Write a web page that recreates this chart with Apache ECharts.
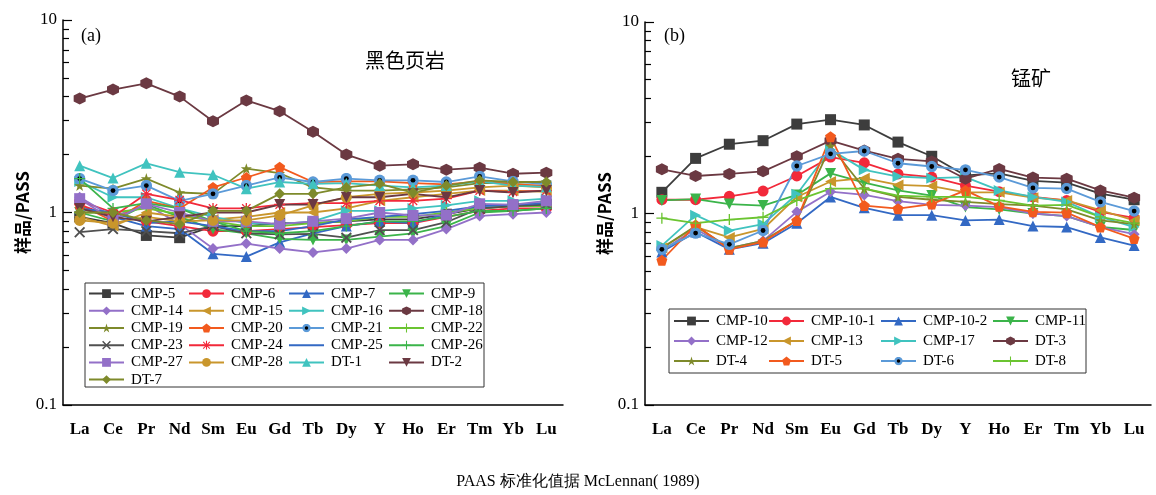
<!DOCTYPE html>
<html>
<head>
<meta charset="utf-8">
<script src="https://cdn.jsdelivr.net/npm/echarts@6/dist/echarts.min.js"></script>
<style>
  html, body { margin: 0; padding: 0; background: #fff; }
  #main { width: 1156px; height: 495px; }
</style>
</head>
<body>
<div id="main"></div>
<script>
var elements = ['La', 'Ce', 'Pr', 'Nd', 'Sm', 'Eu', 'Gd', 'Tb', 'Dy', 'Y', 'Ho', 'Er', 'Tm', 'Yb', 'Lu'];
var yLabels = [0.1, 1, 10];
var yMinor = [0.2, 0.3, 0.4, 0.5, 0.6, 0.7, 0.8, 0.9, 2, 3, 4, 5, 6, 7, 8, 9];

// (a) black shale
var cmp5  = [0.95, 0.88, 0.76, 0.74, 0.85, 0.85, 0.88, 0.88, 0.90, 0.92, 0.92, 0.98, 1.05, 1.08, 1.10];
var cmp6  = [1.15, 1.00, 0.90, 0.85, 0.80, 0.80, 0.82, 0.84, 0.86, 0.88, 0.88, 0.95, 1.02, 1.05, 1.05];
var cmp7  = [1.05, 0.95, 0.85, 0.82, 0.61, 0.59, 0.70, 0.78, 0.85, 0.90, 0.88, 0.98, 1.08, 1.10, 1.12];
var cmp9  = [1.00, 0.90, 1.10, 0.95, 0.82, 0.78, 0.73, 0.72, 0.72, 0.75, 0.78, 0.85, 1.00, 1.02, 1.05];
var cmp14 = [1.20, 0.95, 1.10, 0.87, 0.65, 0.69, 0.65, 0.62, 0.65, 0.72, 0.72, 0.82, 0.96, 0.98, 1.00];
var cmp15 = [0.95, 0.85, 1.00, 0.95, 0.92, 0.95, 1.00, 1.00, 1.05, 1.15, 1.20, 1.25, 1.30, 1.30, 1.28];
var cmp16 = [1.45, 1.20, 1.20, 1.05, 0.95, 0.88, 0.87, 0.90, 1.02, 1.02, 1.05, 1.09, 1.15, 1.15, 1.18];
var cmp18 = [3.91, 4.35, 4.69, 4.00, 2.98, 3.82, 3.36, 2.63, 2.00, 1.75, 1.78, 1.67, 1.71, 1.59, 1.61];
var cmp19 = [1.38, 1.33, 1.50, 1.27, 1.25, 1.69, 1.60, 1.35, 1.30, 1.30, 1.32, 1.35, 1.42, 1.42, 1.45];
var cmp20 = [1.10, 0.90, 1.15, 1.05, 1.35, 1.52, 1.72, 1.44, 1.45, 1.45, 1.42, 1.40, 1.45, 1.40, 1.38];
var cmp21 = [1.50, 1.30, 1.38, 1.15, 1.25, 1.38, 1.52, 1.44, 1.50, 1.47, 1.47, 1.44, 1.54, 1.45, 1.40];
var cmp22 = [1.00, 1.00, 1.05, 0.98, 0.90, 0.85, 0.85, 0.88, 0.90, 0.95, 0.95, 1.00, 1.05, 1.08, 1.08];
var cmp23 = [0.79, 0.82, 0.80, 0.78, 0.85, 0.78, 0.77, 0.775, 0.74, 0.81, 0.81, 0.89, 1.05, 1.08, 1.10];
var cmp24 = [1.10, 0.95, 1.25, 1.16, 1.05, 1.05, 1.10, 1.12, 1.12, 1.15, 1.15, 1.18, 1.30, 1.28, 1.30];
var cmp25 = [1.05, 1.00, 0.88, 0.90, 0.85, 0.80, 0.80, 0.85, 0.92, 0.95, 0.98, 1.02, 1.08, 1.10, 1.12];
var cmp26 = [1.50, 1.05, 1.12, 1.05, 0.90, 0.80, 0.78, 0.80, 0.85, 0.90, 0.90, 0.95, 1.02, 1.02, 1.05];
var cmp27 = [1.18, 0.91, 1.11, 1.00, 0.90, 0.90, 0.87, 0.90, 0.93, 1.00, 0.965, 0.97, 1.11, 1.10, 1.15];
var cmp28 = [0.91, 0.88, 0.95, 0.90, 0.91, 0.91, 0.965, 1.09, 1.20, 1.25, 1.27, 1.30, 1.35, 1.38, 1.35];
var dt1   = [1.75, 1.51, 1.80, 1.62, 1.57, 1.33, 1.44, 1.41, 1.42, 1.38, 1.35, 1.38, 1.45, 1.38, 1.36];
var dt2   = [1.05, 0.95, 0.90, 0.95, 1.00, 1.00, 1.10, 1.10, 1.20, 1.20, 1.25, 1.20, 1.30, 1.27, 1.30];
var dt7   = [1.00, 1.00, 0.91, 0.87, 1.02, 1.02, 1.25, 1.25, 1.35, 1.41, 1.27, 1.38, 1.47, 1.44, 1.44];

// (b) manganese ore
var cmp10  = [1.29, 1.94, 2.30, 2.40, 2.93, 3.09, 2.90, 2.36, 1.99, 1.58, 1.62, 1.48, 1.45, 1.27, 1.18];
var cmp101 = [1.18, 1.18, 1.23, 1.31, 1.57, 1.97, 1.84, 1.61, 1.55, 1.40, 1.30, 1.22, 1.17, 1.02, 0.95];
var cmp102 = [0.63, 0.80, 0.65, 0.70, 0.89, 1.22, 1.07, 0.98, 0.98, 0.92, 0.93, 0.86, 0.85, 0.75, 0.68];
var cmp11  = [1.17, 1.19, 1.12, 1.10, 1.25, 1.62, 1.45, 1.32, 1.24, 1.08, 1.05, 1.00, 0.97, 0.85, 0.82];
var cmp12  = [0.64, 0.83, 0.66, 0.72, 1.02, 1.30, 1.25, 1.16, 1.11, 1.10, 1.08, 1.00, 0.97, 0.85, 0.78];
var cmp13  = [0.66, 0.85, 0.75, 0.83, 1.22, 1.47, 1.53, 1.41, 1.39, 1.29, 1.29, 1.21, 1.17, 1.04, 0.92];
var cmp17  = [0.68, 0.98, 0.815, 0.88, 1.26, 2.16, 1.69, 1.56, 1.53, 1.55, 1.32, 1.22, 1.15, 0.96, 0.85];
var dt3    = [1.70, 1.57, 1.61, 1.66, 1.99, 2.40, 2.13, 1.93, 1.87, 1.52, 1.71, 1.54, 1.52, 1.32, 1.21];
var dt4    = [0.66, 0.86, 0.66, 0.72, 0.92, 2.25, 1.35, 1.22, 1.18, 1.15, 1.12, 1.10, 1.05, 0.92, 0.88];
var dt5    = [0.57, 0.87, 0.65, 0.71, 0.92, 2.52, 1.10, 1.06, 1.12, 1.32, 1.09, 1.02, 1.01, 0.85, 0.74];
var dt6    = [0.65, 0.79, 0.69, 0.815, 1.77, 2.05, 2.12, 1.83, 1.76, 1.69, 1.55, 1.36, 1.35, 1.15, 1.03];
var dt8    = [0.945, 0.89, 0.93, 0.956, 1.17, 1.35, 1.35, 1.24, 1.22, 1.22, 1.17, 1.10, 1.11, 0.96, 0.89];

var C = {
  gray: '#3d3d3d', red: '#f2293a', blue: '#3369c4', green: '#3bb44a',
  purple: '#9370c8', gold: '#c9962c', cyan: '#40c3bf', brown: '#6b3942',
  olive: '#7e8a2b', orange: '#f25a1e', lblue: '#5b9ad8', lgreen: '#6bc431', xgray: '#505050'
};

var SYM = {
  hex: 'path://M50,0 L93.3,25 L93.3,75 L50,100 L6.7,75 L6.7,25 Z',
  star: 'path://M50,0 L61.8,35.4 L99,35.4 L69,57.3 L80.4,92.7 L50,70.8 L19.6,92.7 L31,57.3 L1,35.4 L38.2,35.4 Z',
  pent: 'path://M50,0 L97.6,34.5 L79.4,90.5 L20.6,90.5 L2.4,34.5 Z',
  cross: 'path://M0,12 L12,0 L50,38 L88,0 L100,12 L62,50 L100,88 L88,100 L50,62 L12,100 L0,88 L38,50 Z',
  plus: 'path://M44,0 H56 V44 H100 V56 H56 V100 H44 V56 H0 V44 H44 Z',
  aster: 'path://M44,0 H56 V100 H44 Z M0,44 H100 V56 H0 Z M8,16 L16,8 L92,84 L84,92 Z M84,8 L92,16 L16,92 L8,84 Z',
  line: 'path://M0,0 h0.1 v0.1 h-0.1 Z M0,41 H100 V59 H0 Z M99.9,99.9 h0.1 v0.1 h-0.1 Z',
  dot: 'image://data:image/svg+xml;utf8,' + encodeURIComponent(
    "<svg xmlns='http://www.w3.org/2000/svg' width='40' height='40'>" +
    "<circle cx='20' cy='20' r='19' fill='#5b9ad8'/><circle cx='20' cy='20' r='8' fill='#000'/></svg>")
};

function mk(name, data, color, symbol, rot, idx) {
  return {
    name: name, type: 'line', data: data,
    xAxisIndex: idx, yAxisIndex: idx * 2,
    symbol: symbol, symbolRotate: rot || 0,
    symbolSize: symbol === SYM.hex || symbol === SYM.dot ? 12 : 11,
    itemStyle: { color: color },
    lineStyle: { color: color, width: 1.8 },
    animation: false
  };
}

var seriesA = [
  mk('CMP-5', cmp5, C.gray, 'rect', 0, 0),
  mk('CMP-6', cmp6, C.red, 'circle', 0, 0),
  mk('CMP-7', cmp7, C.blue, 'triangle', 0, 0),
  mk('CMP-9', cmp9, C.green, 'triangle', 180, 0),
  mk('CMP-14', cmp14, C.purple, 'diamond', 0, 0),
  mk('CMP-15', cmp15, C.gold, 'triangle', 90, 0),
  mk('CMP-16', cmp16, C.cyan, 'triangle', -90, 0),
  mk('CMP-18', cmp18, C.brown, SYM.hex, 0, 0),
  mk('CMP-19', cmp19, C.olive, SYM.star, 0, 0),
  mk('CMP-20', cmp20, C.orange, SYM.pent, 0, 0),
  mk('CMP-21', cmp21, C.lblue, SYM.dot, 0, 0),
  mk('CMP-22', cmp22, C.lgreen, SYM.plus, 0, 0),
  mk('CMP-23', cmp23, C.xgray, SYM.cross, 0, 0),
  mk('CMP-24', cmp24, C.red, SYM.aster, 0, 0),
  mk('CMP-25', cmp25, C.blue, 'none', 0, 0),
  mk('CMP-26', cmp26, C.green, SYM.plus, 0, 0),
  mk('CMP-27', cmp27, C.purple, 'rect', 0, 0),
  mk('CMP-28', cmp28, C.gold, 'circle', 0, 0),
  mk('DT-1', dt1, C.cyan, 'triangle', 0, 0),
  mk('DT-2', dt2, C.brown, 'triangle', 180, 0),
  mk('DT-7', dt7, C.olive, 'diamond', 0, 0)
];

var seriesB = [
  mk('CMP-10', cmp10, C.gray, 'rect', 0, 1),
  mk('CMP-10-1', cmp101, C.red, 'circle', 0, 1),
  mk('CMP-10-2', cmp102, C.blue, 'triangle', 0, 1),
  mk('CMP-11', cmp11, C.green, 'triangle', 180, 1),
  mk('CMP-12', cmp12, C.purple, 'diamond', 0, 1),
  mk('CMP-13', cmp13, C.gold, 'triangle', 90, 1),
  mk('CMP-17', cmp17, C.cyan, 'triangle', -90, 1),
  mk('DT-3', dt3, C.brown, SYM.hex, 0, 1),
  mk('DT-4', dt4, C.olive, SYM.star, 0, 1),
  mk('DT-5', dt5, C.orange, SYM.pent, 0, 1),
  mk('DT-6', dt6, C.lblue, SYM.dot, 0, 1),
  mk('DT-8', dt8, C.lgreen, SYM.plus, 0, 1)
];

var serif = 'Liberation Serif';
var cjk = 'Noto Sans CJK SC';

function xAx(idx) {
  return {
    type: 'category', gridIndex: idx, data: elements, boundaryGap: true,
    axisLine: { lineStyle: { color: '#000', width: 1.5 } },
    axisTick: { inside: true, alignWithLabel: true, interval: 0, length: 8, lineStyle: { color: '#000', width: 1.2 } },
    axisLabel: { interval: 0, color: '#000', fontFamily: serif, fontSize: 17, fontWeight: 'bold', margin: 16 },
    splitLine: { show: false }
  };
}
function yMajor(idx) {
  return {
    type: 'log', logBase: 10, gridIndex: idx, min: 0.1, max: 10, position: 'left',
    name: '样品/PASS', nameLocation: 'middle', nameGap: 32, nameRotate: 90,
    nameTextStyle: { color: '#000', fontFamily: cjk, fontSize: 17, fontWeight: 'bold' },
    axisLine: { show: true, lineStyle: { color: '#000', width: 1.5 } },
    axisTick: { show: true, inside: true, length: 9, customValues: yLabels, lineStyle: { color: '#000', width: 1.2 } },
    axisLabel: {
      color: '#000', fontFamily: serif, fontSize: 17, margin: 6, customValues: yLabels,
      formatter: function (v) { return String(Math.round(v * 10) / 10); }
    },
    splitLine: { show: false }, minorTick: { show: false }
  };
}
function yMinorAx(idx) {
  return {
    type: 'log', logBase: 10, gridIndex: idx, min: 0.1, max: 10, position: 'left',
    axisLine: { show: false },
    axisTick: { show: true, inside: true, length: 6, customValues: yMinor, lineStyle: { color: '#000', width: 1.2 } },
    axisLabel: { show: false },
    splitLine: { show: false }
  };
}

function legendCol(names, left, top, lh) {
  return {
    data: names.map(function (n) {
      return n === 'CMP-25' ? { name: n, icon: SYM.line } : n;
    }),
    orient: 'vertical', left: left, top: top, padding: 0,
    itemGap: 0, itemWidth: 35, itemHeight: 11, symbolKeepAspect: false,
    textStyle: { color: '#000', fontFamily: serif, fontSize: 15, lineHeight: lh, padding: [0, 0, 0, 2] }
  };
}

var myChart = echarts.init(document.getElementById('main'));
var option = {
  backgroundColor: '#fff',
  animation: false,
  title: [
    { text: '(a)', left: 76, top: 22, textStyle: { fontFamily: serif, fontSize: 18, fontWeight: 'normal', color: '#000' } },
    { text: '黑色页岩', left: 360, top: 45, textStyle: { fontFamily: cjk, fontSize: 20, fontWeight: 'normal', color: '#000' } },
    { text: '(b)', left: 659, top: 22, textStyle: { fontFamily: serif, fontSize: 18, fontWeight: 'normal', color: '#000' } },
    { text: '锰矿', left: 1006, top: 63, textStyle: { fontFamily: cjk, fontSize: 20, fontWeight: 'normal', color: '#000' } },
    { text: 'PAAS 标准化值据 McLennan( 1989)', left: 'center', top: 469, textStyle: { fontFamily: serif, fontSize: 16, fontWeight: 'normal', color: '#000' } }
  ],
  grid: [
    { left: 63, top: 20, width: 500, height: 385 },
    { left: 645, top: 22, width: 506, height: 383 }
  ],
  xAxis: [xAx(0), xAx(1)],
  yAxis: [yMajor(0), yMinorAx(0), yMajor(1), yMinorAx(1)],
  legend: [
    legendCol(['CMP-5', 'CMP-14', 'CMP-19', 'CMP-23', 'CMP-27', 'DT-7'], 88, 285, 17.2),
    legendCol(['CMP-6', 'CMP-15', 'CMP-20', 'CMP-24', 'CMP-28'], 188, 285, 17.2),
    legendCol(['CMP-7', 'CMP-16', 'CMP-21', 'CMP-25', 'DT-1'], 288, 285, 17.2),
    legendCol(['CMP-9', 'CMP-18', 'CMP-22', 'CMP-26', 'DT-2'], 388, 285, 17.2),
    legendCol(['CMP-10', 'CMP-12', 'DT-4'], 673, 311, 20),
    legendCol(['CMP-10-1', 'CMP-13', 'DT-5'], 768, 311, 20),
    legendCol(['CMP-10-2', 'CMP-17', 'DT-6'], 880, 311, 20),
    legendCol(['CMP-11', 'DT-3', 'DT-8'], 992, 311, 20)
  ],
  graphic: [
    { type: 'rect', shape: { x: 85, y: 283, width: 399, height: 104 }, style: { fill: 'none', stroke: '#333', lineWidth: 1 }, z: 0 },
    { type: 'rect', shape: { x: 669, y: 309, width: 417, height: 64 }, style: { fill: 'none', stroke: '#333', lineWidth: 1 }, z: 0 }
  ],
  series: seriesA.concat(seriesB)
};

option && myChart.setOption(option);
</script>
</body>
</html>
